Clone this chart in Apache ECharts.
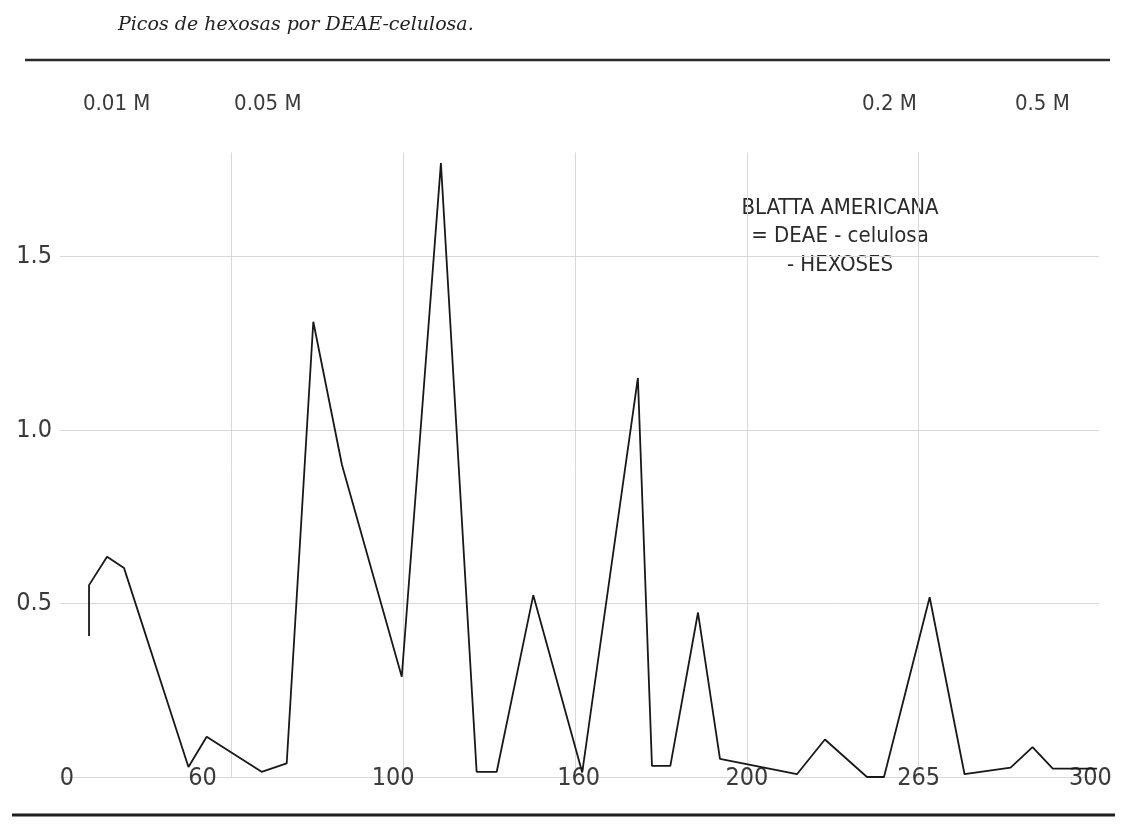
<!DOCTYPE html>
<html><head><meta charset="utf-8">
<script src="https://cdn.jsdelivr.net/npm/echarts@6/dist/echarts.min.js"></script>
<style>html,body{margin:0;padding:0;background:#fff}#c{width:1123px;height:825px}</style>
</head><body><div id="c"></div>
<script>
// x positions are in grid units of the original (non-uniform) fraction axis
const fractionPos = [0.169, 0.169, 0.274, 0.373, 0.748, 0.854, 1.174, 1.320, 1.475, 1.642, 1.990, 2.218, 2.426, 2.543, 2.756, 3.041, 3.365, 3.447, 3.554, 3.715, 3.843, 4.291, 4.454, 4.699, 4.798, 5.064, 5.267, 5.535, 5.663, 5.781, 6.038];
const hexoseAbs   = [0.406, 0.553, 0.635, 0.602, 0.029, 0.116, 0.015, 0.039, 1.312, 0.899, 0.289, 1.769, 0.015, 0.015, 0.524, 0.013, 1.150, 0.032, 0.032, 0.474, 0.052, 0.008, 0.108, 0.000, 0.000, 0.518, 0.008, 0.027, 0.086, 0.024, 0.024];
const xTickPos    = [0.04, 0.83, 1.94, 3.02, 4.0, 5.0, 6.0];
const xTickLabels = ['0', '60', '100', '160', '200', '265', '300'];
const molarityPos    = [0.33, 1.21, 4.83, 5.72];
const molarityLabels = ['0.01 M', '0.05 M', '0.2 M', '0.5 M'];
const yTickValues = [0.5, 1.0, 1.5];
const titleText  = 'Picos de hexosas por DEAE-celulosa.';
const legendText = ['BLATTA AMERICANA', '= DEAE - celulosa', '- HEXOSES'];

const NARROW = "'Liberation Sans Narrow','DejaVu Sans Condensed','Liberation Sans',sans-serif";
const GRID = '#d8d8d8';
const T = 'rgba(0,0,0,0)';

function labelFor(positions, labels) {
  return function (v) {
    let best = 0, d = Infinity;
    positions.forEach((p, i) => { const dd = Math.abs(p - v); if (dd < d) { d = dd; best = i; } });
    return d < 0.02 ? labels[best] : '';
  };
}

const chart = echarts.init(document.getElementById('c'), null, {renderer: 'canvas'});
chart.setOption({
  animation: false,
  backgroundColor: '#fff',
  grid: {left: 60, right: 24, top: 152.4, bottom: 48, containLabel: false},
  xAxis: [{
    type: 'value', min: 0, max: 6.05, interval: 1,
    axisLine: {show: false}, axisTick: {show: false},
    splitLine: {show: true, lineStyle: {color: [T, GRID, GRID, GRID, GRID, GRID, T, T], width: 1}},
    axisLabel: {
      customValues: xTickPos, formatter: labelFor(xTickPos, xTickLabels),
      margin: -11, color: '#3a3a3a', fontSize: 25, fontFamily: NARROW
    }
  }, {
    type: 'value', min: 0, max: 6.05, position: 'top',
    axisLine: {show: false}, axisTick: {show: false}, splitLine: {show: false},
    axisLabel: {
      customValues: molarityPos, formatter: labelFor(molarityPos, molarityLabels),
      margin: 37, color: '#3a3a3a', fontSize: 22, fontFamily: NARROW
    }
  }],
  yAxis: {
    type: 'value', min: 0, max: 1.8, interval: 0.5,
    axisLine: {show: false}, axisTick: {show: false},
    splitLine: {show: true, lineStyle: {color: [GRID, GRID, GRID, GRID, T], width: 1}},
    axisLabel: {
      customValues: yTickValues, formatter: v => v.toFixed(1),
      margin: 8, color: '#3a3a3a', fontSize: 25, fontFamily: NARROW
    }
  },
  series: [{
    type: 'line', data: fractionPos.map((x, i) => [x, hexoseAbs[i]]),
    showSymbol: false, symbol: 'none', smooth: false,
    lineStyle: {color: '#181818', width: 1.8}
  }],
  graphic: [
    {type: 'text', left: 118, top: 16, style: {text: titleText, fontFamily: "'DejaVu Serif','Liberation Serif',serif", fontStyle: 'italic', fontSize: 19, fill: '#222'}},
    {type: 'line', shape: {x1: 25, y1: 60, x2: 1110, y2: 60}, style: {stroke: '#2a2a2a', lineWidth: 2.5}},
    {type: 'line', shape: {x1: 12, y1: 815, x2: 1115, y2: 815}, style: {stroke: '#1e1e1e', lineWidth: 3}},
    {type: 'text', x: 840, y: 194, style: {text: legendText.join('\n'), textAlign: 'center', fontFamily: NARROW, fontSize: 22, lineHeight: 28.5, fill: '#2a2a2a'}}
  ]
});
</script></body></html>
